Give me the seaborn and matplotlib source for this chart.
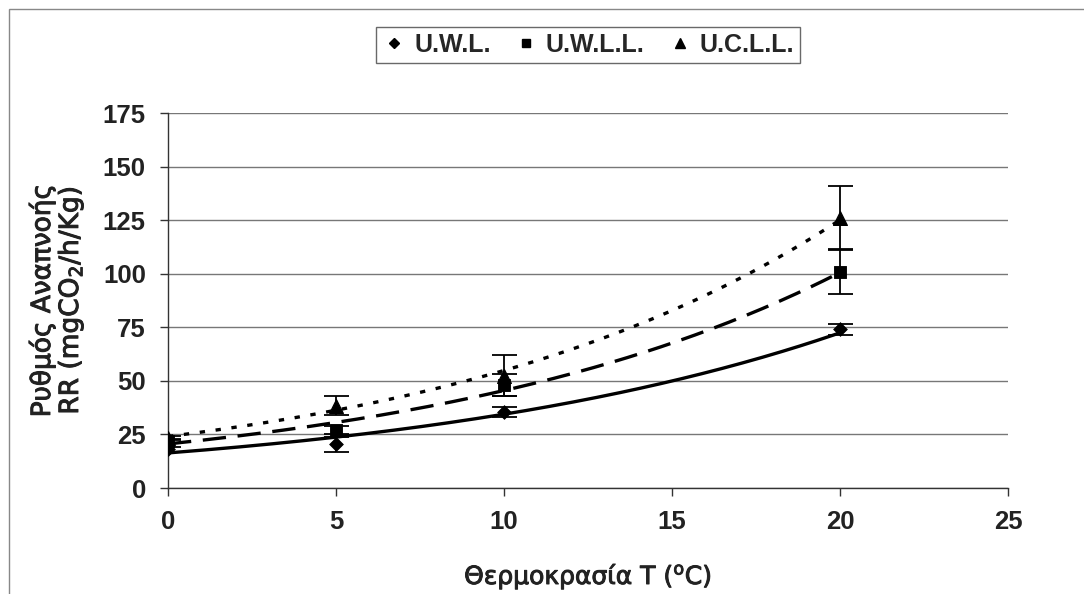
import numpy as np
import pandas as pd
import matplotlib
matplotlib.use("Agg")
import matplotlib.pyplot as plt
import matplotlib.patheffects as pe
import seaborn as sns
from matplotlib.lines import Line2D

temps = [0, 5, 10, 20]
series_names = ["U.W.L.", "U.W.L.L.", "U.C.L.L."]
uwl = [18, 20.5, 35.5, 74]
uwl_err = [1.0, 3.5, 2.5, 2.5]
uwll = [22, 27, 48, 101]
uwll_err = [1.0, 2.0, 5.0, 10.5]
ucll = [23.5, 38.5, 52.5, 126]
ucll_err = [1.0, 4.5, 9.5, 15.0]

values = [uwl, uwll, ucll]
errors = [uwl_err, uwll_err, ucll_err]
markers = ["D", "s", "^"]
msizes = [7, 8, 10]
linestyles = ["-", (0, (7, 3.5)), (0, (1.6, 3.2))]

sns.set_theme(style="white")
plt.rcParams["font.family"] = ["Liberation Sans", "DejaVu Sans"]

fig = plt.figure(figsize=(10.84, 5.94), dpi=100)
ax = fig.add_axes([168 / 1084, 1 - 488 / 594, 840 / 1084, 375 / 594])

# exponential trend lines (least squares on log values, like Excel)
xs = np.linspace(0, 20, 200)
for name, v, ls in zip(series_names, values, linestyles):
    b, a = np.polyfit(temps, np.log(v), 1)
    trend = pd.DataFrame({"T": xs, "RR": np.exp(a) * np.exp(b * xs)})
    sns.lineplot(data=trend, x="T", y="RR", ax=ax, color="black",
                 lw=2.4, linestyle=ls, zorder=3)

for name, v, e, m, ms in zip(series_names, values, errors, markers, msizes):
    ax.errorbar(temps, v, yerr=e, fmt="none", ecolor="black", elinewidth=1.3,
                capsize=9, capthick=1.3, zorder=4)
    df = pd.DataFrame({"T": temps, "RR": v})
    sns.scatterplot(data=df, x="T", y="RR", ax=ax, marker=m, s=ms ** 2,
                    color="black", edgecolor="black", zorder=5)

ax.set_xlim(0, 25)
ax.set_ylim(0, 175)
ax.set_xticks([0, 5, 10, 15, 20, 25])
ax.set_yticks(np.arange(0, 176, 25))
ax.yaxis.grid(True, color="#777777", lw=1.0)
ax.xaxis.grid(False)
for s in ["top", "right"]:
    ax.spines[s].set_visible(False)
for s in ["left", "bottom"]:
    ax.spines[s].set_color("#333333")
    ax.spines[s].set_linewidth(1.0)
ax.tick_params(axis="both", which="both", length=6, width=1, color="#333333",
               direction="out", bottom=True, left=True, labelsize=18.5, pad=10)
for lab in ax.get_xticklabels() + ax.get_yticklabels():
    lab.set_fontweight("bold")
    lab.set_color("#222222")

thick = [pe.withStroke(linewidth=0.7, foreground="#222222")]
ax.set_xlabel("Θερμοκρασία T ($\\mathregular{^{o}}$C)", fontsize=18, color="#222222",
              labelpad=20, family=["DejaVu Sans"], path_effects=thick)
ax.set_ylabel("Ρυθμός Αναπνοής\nRR (mgCO$\\mathregular{_2}$/h/Kg)", fontsize=19,
              color="#222222", labelpad=12, linespacing=1.0, family=["DejaVu Sans"],
              path_effects=thick)

handles = [Line2D([], [], marker=m, color="black", linestyle="none", markersize=ms * 0.75)
           for m, ms in zip(markers, msizes)]
leg = fig.legend(handles, series_names, loc="center", bbox_to_anchor=(588 / 1084, 1 - 45 / 594),
                 ncol=3, frameon=True, fancybox=False, edgecolor="#444444",
                 prop={"size": 18, "weight": "bold"}, handletextpad=0.3,
                 columnspacing=0.9, handlelength=1.0, borderpad=0.25)
leg.get_frame().set_linewidth(1.0)

# outer chart border
fig.add_artist(plt.Rectangle((9 / 1084, -0.05), 1.2, 1 - 9 / 594 + 0.05, transform=fig.transFigure,
                             fill=False, edgecolor="#888888", lw=1.0))

fig.savefig("out.png", dpi=100)
